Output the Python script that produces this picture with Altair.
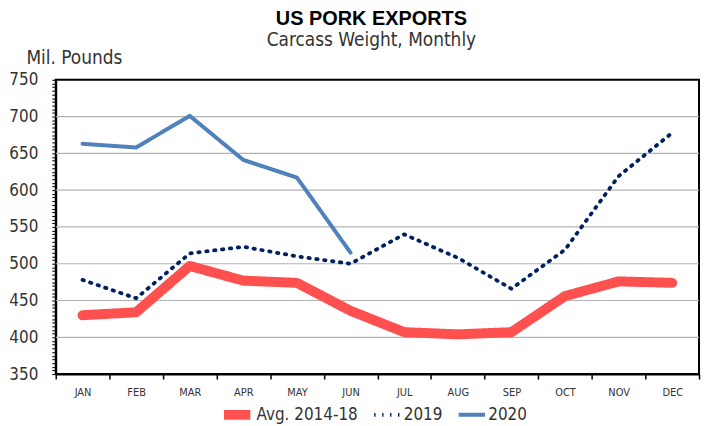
import altair as alt
import pandas as pd

months = ["JAN", "FEB", "MAR", "APR", "MAY", "JUN", "JUL", "AUG", "SEP", "OCT", "NOV", "DEC"]
series_names = ["Avg. 2014-18", "2019", "2020"]
avg_2014_18 = [430, 434, 497, 477, 474, 436, 407, 404, 407, 456, 476, 474]
y2019 = [478, 453, 514, 523, 510, 500, 540, 508, 466, 519, 619, 678]
y2020 = [663, 658, 701, 641, 617, 515]
grid_values = [400, 450, 500, 550, 600, 650, 700]
y_ticks = list(range(350, 751, 5))

rows = []
for name, vals in zip(series_names, [avg_2014_18, y2019, y2020]):
    for m, v in zip(months, vals):
        rows.append({"series": name, "month": m, "value": v})
df = pd.DataFrame(rows)
grid_df = pd.DataFrame({"g": grid_values})

NARROW = "'Liberation Sans Narrow', 'DejaVu Sans Condensed', 'Liberation Sans', sans-serif"
TXT = "#333333"

yscale = alt.Scale(domain=[350, 750], nice=False, zero=False)
xscale = alt.Scale(type="band", domain=months, paddingInner=0, paddingOuter=0)

yaxis = alt.Axis(
    values=y_ticks, labelExpr="datum.value % 50 == 0 ? datum.label : ''",
    labelOverlap=False, labelFont=NARROW, labelFontSize=17, labelColor=TXT,
    labelPadding=14, tickSize=4, tickColor="black", tickWidth=1,
    domainColor="black", domainWidth=2, grid=False,
    title="Mil. Pounds", titleAngle=0, titleAlign="left", titleBaseline="alphabetic",
    titleX=-30, titleY=-16, titleFont=NARROW, titleFontSize=19,
    titleFontWeight="normal", titleColor=TXT,
)

grid = alt.Chart(grid_df).mark_rule(color="#b3b3b3", strokeWidth=1.2).encode(
    y=alt.Y("g:Q", scale=yscale, axis=yaxis)
)

lines = alt.Chart(df).mark_line(strokeCap="round", strokeJoin="round").encode(
    x=alt.X(
        "month:O", sort=months, scale=xscale, bandPosition=0.5,
        axis=alt.Axis(
            title=None, tickBand="extent", labelAngle=0, labelFont=NARROW,
            labelFontSize=11, labelColor=TXT, labelPadding=8, tickColor="black",
            tickSize=5, tickWidth=1.5, domainColor="black", domainWidth=2, grid=False,
        ),
    ),
    y=alt.Y("value:Q", scale=yscale, axis=yaxis),
    color=alt.Color(
        "series:N", sort=series_names,
        scale=alt.Scale(domain=series_names, range=["#FF5050", "#002060", "#4F81BD"]),
        legend=alt.Legend(title=None),
    ),
    strokeDash=alt.StrokeDash(
        "series:N", sort=series_names,
        scale=alt.Scale(domain=series_names, range=[[1, 0], [1.4, 6.6], [1, 0]]),
        legend=alt.Legend(title=None),
    ),
    strokeWidth=alt.StrokeWidth(
        "series:N", sort=series_names,
        scale=alt.Scale(type="ordinal", domain=series_names, range=[10, 3.8, 4]),
        legend=alt.Legend(title=None),
    ),
)

chart = alt.layer(grid, lines).properties(
    width=647,
    height=296,
    padding={"left": 0, "right": 2, "top": 0, "bottom": 0},
    title=alt.TitleParams(
        "US PORK EXPORTS",
        subtitle="Carcass Weight, Monthly",
        font="Liberation Sans", fontSize=20, fontWeight="bold", color="black",
        subtitleFont=NARROW, subtitleFontSize=19, subtitleColor=TXT,
        subtitlePadding=2, anchor="middle", offset=-1, dx=-6,
    ),
).configure_view(
    stroke="black", strokeWidth=2
).configure_legend(
    orient="none", legendX=164, legendY=329, direction="horizontal",
    labelFont=NARROW, labelFontSize=17, clipHeight=16,
    labelColor=TXT, symbolType="stroke", symbolSize=700, labelOffset=1,
    columnPadding=14, padding=0,
)

chart.save("out.html", embed_options={"renderer": "svg", "actions": False})
